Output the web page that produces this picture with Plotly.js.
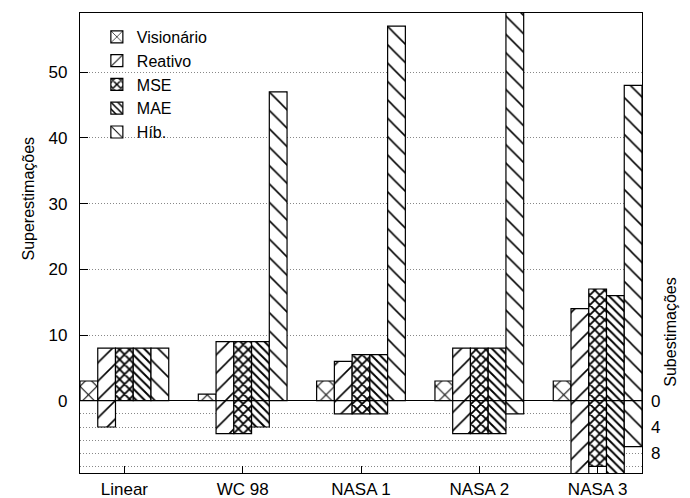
<!DOCTYPE html>
<html>
<head>
<meta charset="utf-8">
<script src="https://cdn.plot.ly/plotly-3.0.1.min.js"></script>
<style>html,body{margin:0;padding:0;background:#fff;}#chart{width:690px;height:498px;}</style>
</head>
<body>
<div id="chart"></div>
<script>
const categories = ['Linear', 'WC 98', 'NASA 1', 'NASA 2', 'NASA 3'];
const seriesNames = ['Visionário', 'Reativo', 'MSE', 'MAE', 'Híb.'];
// Superestimações (positive part)
const visPos = [3, 1, 3, 3, 3];
const reaPos = [8, 9, 6, 8, 14];
const msePos = [8, 9, 7, 8, 17];
const maePos = [8, 9, 7, 8, 16];
const hibPos = [8, 47, 57, 61, 48];
// Subestimações (drawn below zero)
const visNeg = [null, null, null, null, null];
const reaNeg = [4, 5, 2, 5, 12];
const mseNeg = [null, 5, 2, 5, 10];
const maeNeg = [null, 4, 2, 5, 12];
const hibNeg = [null, null, null, 2, 7];
const leftTicks = [0, 10, 20, 30, 40, 50];
const rightTicks = [0, -2, -4, -6, -8, -10];
const rightTickText = ['0', '', '4', '', '8', ''];

const posData = [visPos, reaPos, msePos, maePos, hibPos];
const negData = [visNeg, reaNeg, mseNeg, maeNeg, hibNeg];
const patterns = [
  {shape: 'x', size: 12, solidity: 0.16},
  {shape: '/', size: 13, solidity: 0.12},
  {shape: 'x', size: 7, solidity: 0.45},
  {shape: '\\', size: 6, solidity: 0.32},
  {shape: '\\', size: 13, solidity: 0.12}
];
const W = 0.15;
const traces = [];
for (let i = 0; i < 5; i++) {
  const pat = Object.assign({fgcolor: '#000', bgcolor: '#fff', fgopacity: 1, fillmode: 'overlay'}, patterns[i]);
  const mk = {color: '#fff', pattern: pat, line: {color: '#000', width: 1.2}};
  traces.push({
    type: 'bar', x: categories, y: posData[i], name: seriesNames[i],
    width: W, offset: -0.375 + i * W, marker: mk, hoverinfo: 'skip'
  });
  traces.push({
    type: 'bar', x: categories, y: negData[i].map(v => v == null ? null : -v), name: seriesNames[i],
    width: W, offset: -0.375 + i * W, marker: mk, showlegend: false, hoverinfo: 'skip'
  });
}

const FAM = '"Liberation Sans", Arial, Helvetica, sans-serif';
const font = {family: FAM, size: 17, color: '#000'};
const GRID = '#888';
const layout = {
  width: 690, height: 498,
  margin: {l: 80, r: 48, t: 13, b: 25},
  paper_bgcolor: '#fff', plot_bgcolor: '#fff',
  font: font,
  barmode: 'overlay',
  showlegend: true,
  legend: {x: 0.03, y: 0.985, xanchor: 'left', yanchor: 'top', bgcolor: 'rgba(0,0,0,0)',
           font: {family: FAM, size: 16, color: '#000'}, tracegroupgap: 0},
  xaxis: {
    type: 'category', range: [-0.375, 4.375],
    showline: true, linecolor: '#000', linewidth: 1.2, mirror: true,
    ticks: 'inside', ticklen: 7, tickcolor: '#000', showgrid: false, zeroline: false,
    tickfont: {family: FAM, size: 17, color: '#000'}
  },
  yaxis: {
    range: [-11, 59], tickvals: leftTicks,
    showline: true, linecolor: '#000', linewidth: 1.2, mirror: true,
    ticks: 'inside', ticklen: 8, tickcolor: '#000', ticklabelstandoff: 8,
    showgrid: true, gridcolor: GRID, griddash: '1px,2px', gridwidth: 1,
    zeroline: true, zerolinecolor: '#000', zerolinewidth: 1.2,
    tickfont: {family: FAM, size: 17, color: '#000'}
  },
  yaxis2: {
    overlaying: 'y', side: 'right', range: [-11, 59],
    tickvals: rightTicks, ticktext: rightTickText, ticklabelstandoff: 8,
    showline: false, ticks: '', showgrid: true, gridcolor: GRID, griddash: '1px,2px', gridwidth: 1,
    zeroline: false,
    tickfont: {family: FAM, size: 17, color: '#000'}
  },
  annotations: [
    {text: 'Superestimações', xref: 'paper', yref: 'paper', x: -0.11, y: 0.596,
     textangle: -90, showarrow: false, font: {family: FAM, size: 16, color: '#000'}},
    {text: 'Subestimações', xref: 'paper', yref: 'paper', x: 1.07, y: 0.184,
     textangle: -90, showarrow: false, font: {family: FAM, size: 16, color: '#000'}}
  ]
};
// dummy trace to activate yaxis2
traces.push({type: 'scatter', x: [categories[0]], y: [null], yaxis: 'y2', showlegend: false, hoverinfo: 'skip'});
Plotly.newPlot('chart', traces, layout, {displayModeBar: false, staticPlot: true});
</script>
</body>
</html>
